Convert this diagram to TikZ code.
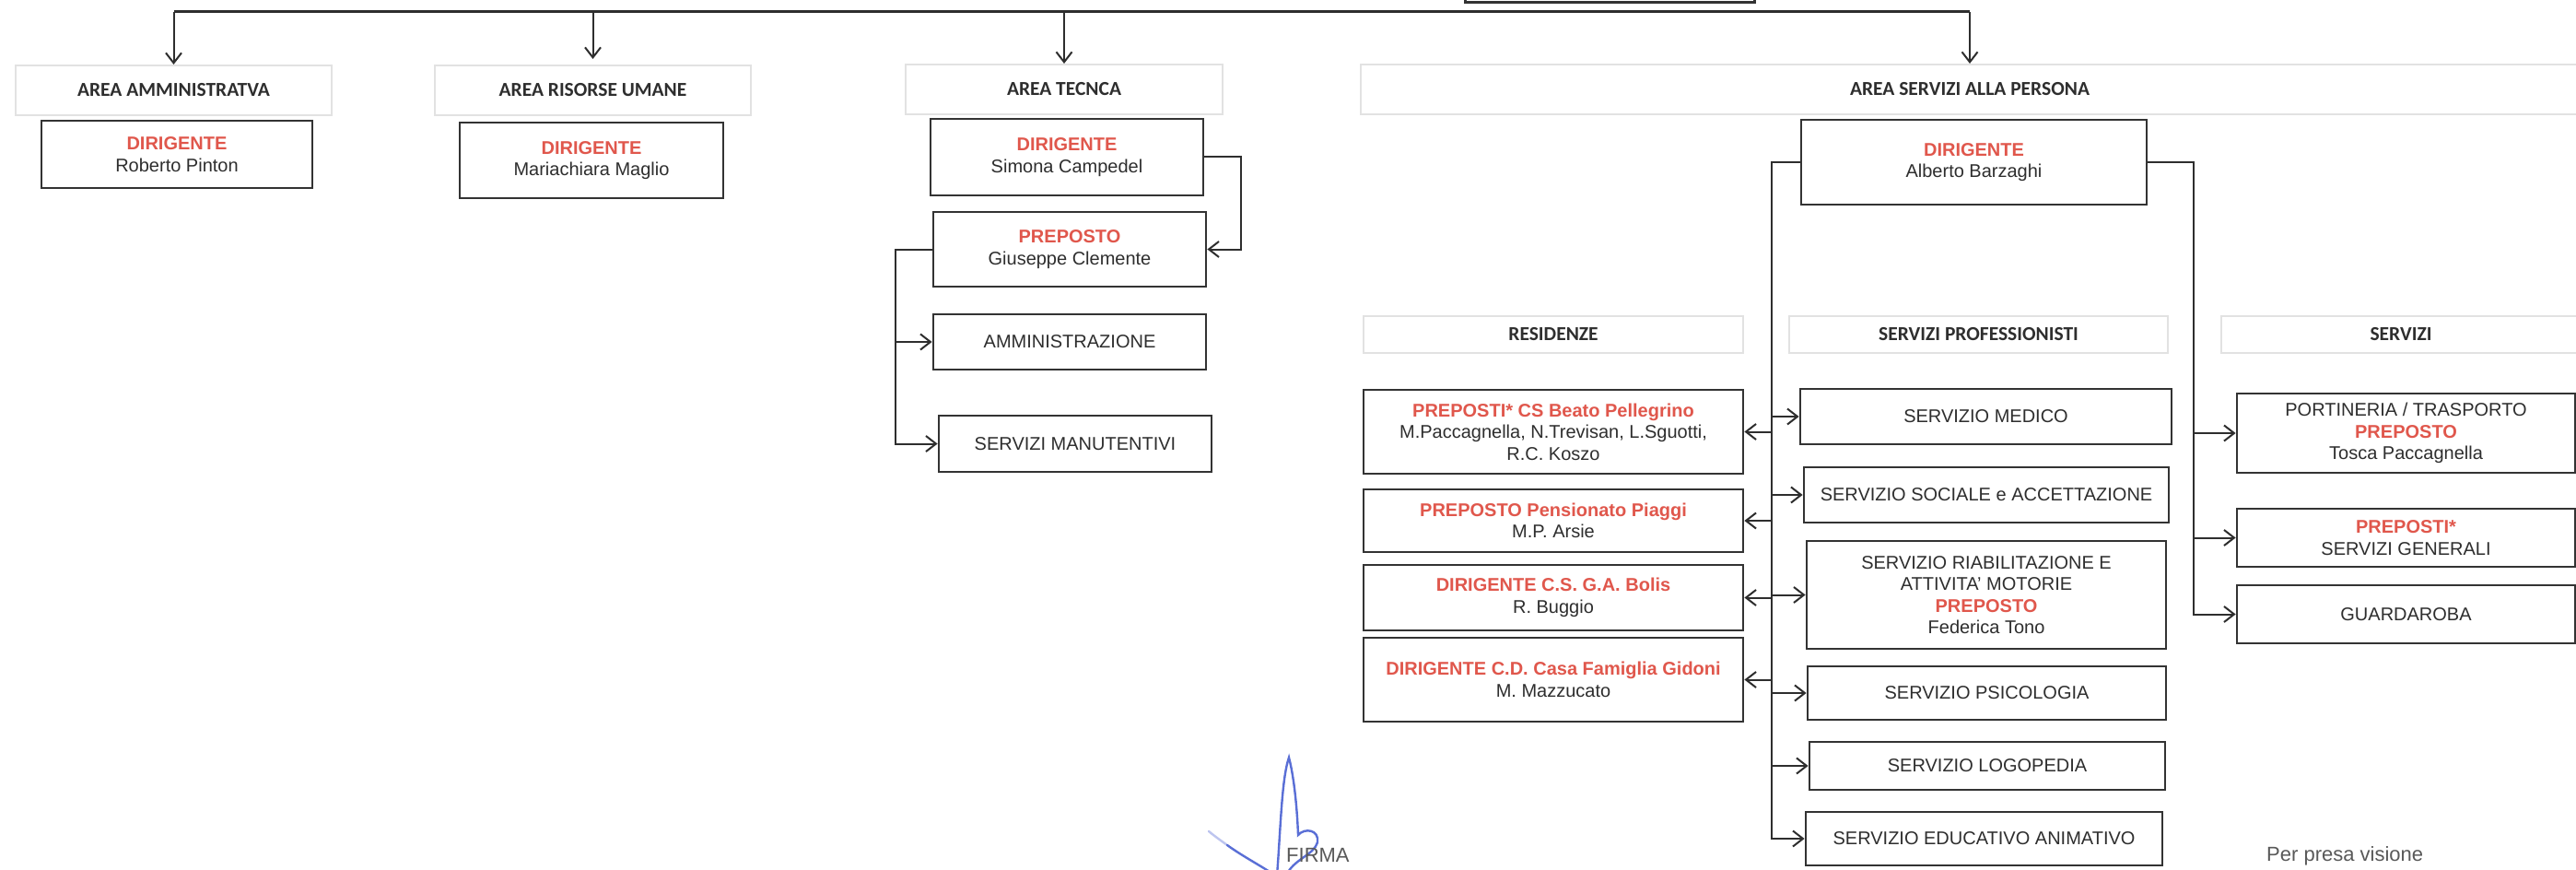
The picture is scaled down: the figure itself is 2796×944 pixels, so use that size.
\documentclass[tikz,border=0pt]{standalone}
\usepackage{fontspec}
\setmainfont{Liberation Sans}
\newfontfamily\hdrfam{Carlito}
\usetikzlibrary{arrows.meta}
\definecolor{txt}{HTML}{2E2E2E}
\definecolor{bx}{HTML}{333333}
\definecolor{redt}{HTML}{E0574C}
\definecolor{sigblue}{HTML}{5A6FD6}
\definecolor{hdrline}{HTML}{E2E2E2}
\newcommand\rtitle[1]{{\color{redt}\bfseries #1}}
\begin{document}
\begin{tikzpicture}[x=1pt,y=1pt,
  hdr/.style={draw=hdrline, line width=2pt, fill=white, text=txt, inner sep=0pt,
    font=\hdrfam\bfseries\fontsize{21.5}{24}\selectfont},
  box/.style={draw=bx, line width=2.8pt, fill=white, text=txt, align=center, inner sep=0pt,
    font=\fontsize{20}{23.5}\selectfont},
  conn/.style={draw=txt, line width=2pt},
  arr/.style={conn, -{Straight Barb[length=11pt,width=17pt,line width=2pt]}},
  sig/.style={draw=sigblue, line width=2.4pt, line cap=round},
  note/.style={text=black!65, inner sep=0pt, font=\fontsize{22}{25}\selectfont}]
\useasboundingbox (0,0) rectangle (2796,-944);
\fill[white] (0,0) rectangle (2796,-944);

% top (cut off) box
\node[draw=bx, line width=3pt, minimum width=314pt, minimum height=40pt, inner sep=0pt] (top) at (1747,17) {};

% headers of the areas
\node[hdr, minimum width=343pt, minimum height=54pt] (h1) at (188.5,-98) {AREA AMMINISTRATVA};
\node[hdr, minimum width=343pt, minimum height=54pt] (h2) at (643.5,-98) {AREA RISORSE UMANE};
\node[hdr, minimum width=344pt, minimum height=54pt] (h3) at (1155,-97) {AREA TECNCA};
\node[hdr, minimum width=1322pt, minimum height=54pt] (h4) at (2138,-97) {AREA SERVIZI ALLA PERSONA};

% bus
\coordinate (bus) at (0,-13);
\draw[conn, line width=3pt] (h1.north |- bus) -- (h4.north |- bus);
\draw[arr] (h1.north |- bus) -- (h1.north);
\draw[arr] (h2.north |- bus) -- ([yshift=6pt]h2.north);
\draw[arr] (h3.north |- bus) -- (h3.north);
\draw[arr] (h4.north |- bus) -- (h4.north);

% area amministrativa / risorse umane
\node[box, minimum width=294pt, minimum height=73pt] (d1) at (192,-167.5) {\rtitle{DIRIGENTE}\\Roberto Pinton};
\node[box, minimum width=286pt, minimum height=82pt] (d2) at (642,-174) {\rtitle{DIRIGENTE}\\Mariachiara Maglio};

% area tecnica
\node[box, minimum width=296pt, minimum height=83pt] (d3) at (1158,-170.5) {\rtitle{DIRIGENTE}\\Simona Campedel};
\node[box, minimum width=296pt, minimum height=81pt] (p3) at (1161,-270.5) {\rtitle{PREPOSTO}\\Giuseppe Clemente};
\node[box, minimum width=296pt, minimum height=60pt] (amm) at (1161,-371) {AMMINISTRAZIONE};
\node[box, minimum width=296pt, minimum height=61pt] (man) at (1167,-481.5) {SERVIZI MANUTENTIVI};
\draw[arr] (d3.east) -- ++(40,0) |- (p3.east);
\coordinate (tk) at ([xshift=-40pt]p3.west);
\draw[arr] (p3.west) -- (tk) |- (amm.west);
\draw[arr] (tk) |- (man.west);

% area servizi alla persona
\node[box, minimum width=375pt, minimum height=92pt] (d4) at (2142.5,-176) {\rtitle{DIRIGENTE}\\Alberto Barzaghi};

\node[hdr, minimum width=412pt, minimum height=40pt] (hr) at (1686,-363) {RESIDENZE};
\node[hdr, minimum width=411pt, minimum height=40pt] (hp) at (2147.5,-363) {SERVIZI PROFESSIONISTI};
\node[hdr, minimum width=390pt, minimum height=40pt] (hs) at (2606,-363) {SERVIZI};

\node[box, minimum width=412pt, minimum height=91pt] (r1) at (1686,-468.5)
  {\rtitle{PREPOSTI* CS Beato Pellegrino}\\M.Paccagnella, N.Trevisan, L.Sguotti,\\R.C. Koszo};
\node[box, minimum width=412pt, minimum height=68pt] (r2) at (1686,-565)
  {\rtitle{PREPOSTO Pensionato Piaggi}\\M.P. Arsie};
\node[box, minimum width=412pt, minimum height=71pt] (r3) at (1686,-648.5)
  {\rtitle{DIRIGENTE C.S. G.A. Bolis}\\R. Buggio};
\node[box, minimum width=412pt, minimum height=91pt] (r4) at (1686,-737.5)
  {\rtitle{DIRIGENTE C.D. Casa Famiglia Gidoni}\\M. Mazzucato};

\node[box, minimum width=403pt, minimum height=60pt] (med) at (2155.5,-452) {SERVIZIO MEDICO};
\node[box, minimum width=396pt, minimum height=60pt] (soc) at (2156,-537) {SERVIZIO SOCIALE e ACCETTAZIONE};
\node[box, minimum width=390pt, minimum height=117pt] (ria) at (2156,-645.5)
  {SERVIZIO RIABILITAZIONE E\\ATTIVITA' MOTORIE\\\rtitle{PREPOSTO}\\Federica Tono};
\node[box, minimum width=389pt, minimum height=58pt] (psi) at (2156.5,-752) {SERVIZIO PSICOLOGIA};
\node[box, minimum width=386pt, minimum height=52pt] (log) at (2157,-831) {SERVIZIO LOGOPEDIA};
\node[box, minimum width=387pt, minimum height=58pt] (edu) at (2153.5,-910) {SERVIZIO EDUCATIVO ANIMATIVO};

\node[box, minimum width=367pt, minimum height=86pt] (por) at (2611.5,-470)
  {PORTINERIA / TRASPORTO\\\rtitle{PREPOSTO}\\Tosca Paccagnella};
\node[box, minimum width=367pt, minimum height=63pt] (pg) at (2611.5,-583.5)
  {\rtitle{PREPOSTI*}\\SERVIZI GENERALI};
\node[box, minimum width=367pt, minimum height=63pt] (gua) at (2611.5,-666.5) {GUARDAROBA};

% left trunk
\coordinate (lt) at ([xshift=-31pt]d4.west);
\draw[arr] (d4.west) -- (lt) |- (edu.west);
\foreach \n in {r1,r2,r3,r4} \draw[arr] (lt |- \n.east) -- (\n.east);
\foreach \n in {med,soc,ria,psi,log} \draw[arr] (lt |- \n.west) -- (\n.west);
% right trunk
\coordinate (rt) at ([xshift=50pt]d4.east);
\draw[arr] (d4.east) -- (rt) |- (gua.west);
\foreach \n in {por,pg} \draw[arr] (rt |- \n.west) -- (\n.west);

% signature and notes
\draw[sig, draw=sigblue!40] (1312,-902) .. controls (1318,-907) and (1325,-912) .. (1332,-917);
\draw[sig] (1332,-917) .. controls (1350,-930) and (1370,-940) .. (1384,-950);
\draw[sig] (1386,-950) .. controls (1390,-900) and (1391,-845) .. (1399,-822)
  .. controls (1405,-845) and (1408,-880) .. (1409,-906)
  .. controls (1416,-898) and (1432,-900) .. (1430,-914)
  .. controls (1426,-928) and (1404,-932) .. (1396,-950);
\node[note, anchor=west] (firma) at (1396,-928) {FIRMA};
\node[note, anchor=west] (visione) at (2460,-929) {Per presa visione};
\end{tikzpicture}
\end{document}
